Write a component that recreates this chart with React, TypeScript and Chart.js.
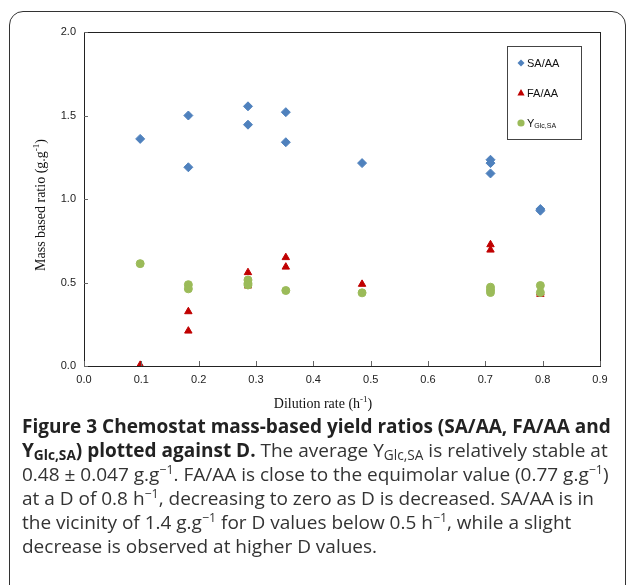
import React, { useEffect, useRef } from "react";
import { Chart, registerables } from "chart.js";

Chart.register(...registerables);

const SA_D = [0.098, 0.182, 0.182, 0.286, 0.286, 0.352, 0.352, 0.485, 0.709, 0.709, 0.709, 0.796, 0.796];
const SA_Y = [1.36, 1.5, 1.19, 1.555, 1.445, 1.52, 1.34, 1.215, 1.235, 1.215, 1.153, 0.94, 0.93];
const FA_D = [0.098, 0.182, 0.182, 0.286, 0.286, 0.352, 0.352, 0.485, 0.709, 0.709, 0.796, 0.796];
const FA_Y = [0.005, 0.326, 0.21, 0.56, 0.48, 0.65, 0.593, 0.49, 0.727, 0.695, 0.43, 0.44];
const YG_D = [0.098, 0.182, 0.182, 0.286, 0.286, 0.286, 0.352, 0.485, 0.709, 0.709, 0.709, 0.796, 0.796];
const YG_Y = [0.613, 0.487, 0.462, 0.515, 0.495, 0.485, 0.452, 0.438, 0.472, 0.455, 0.44, 0.482, 0.44];

const X_TICKS = [0, 0.1, 0.2, 0.3, 0.4, 0.5, 0.6, 0.7, 0.8, 0.9];
const Y_TICKS = [0, 0.5, 1.0, 1.5, 2.0];

const BLUE = "#4F81BD";
const RED = "#C00000";
const GREEN = "#9BBB59";

const toPts = (d: number[], v: number[]) => d.map((x, i) => ({ x, y: v[i] }));

const decorPlugin = {
  id: "decor",
  afterDraw(chart: any) {
    const { ctx, chartArea: a, scales } = chart;
    const xs = scales.x;
    const ys = scales.y;
    ctx.save();
    ctx.strokeStyle = "#222";
    ctx.lineWidth = 1;
    ctx.strokeRect(Math.round(a.left) + 0.5, Math.round(a.top) + 0.5, Math.round(a.right - a.left), Math.round(a.bottom - a.top));
    ctx.strokeStyle = "#666";
    ctx.beginPath();
    X_TICKS.forEach((t) => {
      const px = Math.round(xs.getPixelForValue(t)) + 0.5;
      ctx.moveTo(px, a.bottom);
      ctx.lineTo(px, a.bottom - 5);
    });
    Y_TICKS.forEach((t) => {
      const py = Math.round(ys.getPixelForValue(t)) + 0.5;
      ctx.moveTo(a.left, py);
      ctx.lineTo(a.left + 4, py);
    });
    ctx.stroke();

    ctx.fillStyle = "#111";
    ctx.textBaseline = "alphabetic";
    const main = "14px 'Liberation Serif', 'Times New Roman', serif";
    const sup = "9px 'Liberation Serif', 'Times New Roman', serif";
    const drawSupTitle = (a1: string, s: string, a2: string, cx: number, by: number) => {
      ctx.font = main;
      const w1 = ctx.measureText(a1).width;
      const w3 = ctx.measureText(a2).width;
      ctx.font = sup;
      const w2 = ctx.measureText(s).width;
      let x = cx - (w1 + w2 + w3) / 2;
      ctx.font = main;
      ctx.fillText(a1, x, by);
      x += w1;
      ctx.font = sup;
      ctx.fillText(s, x, by - 6);
      x += w2;
      ctx.font = main;
      ctx.fillText(a2, x, by);
    };
    ctx.textAlign = "left";
    drawSupTitle("Dilution rate (h", "-1", ")", 323, 408);
    ctx.save();
    ctx.translate(45, 205);
    ctx.rotate(-Math.PI / 2);
    drawSupTitle("Mass based ratio (g.g", "-1", ")", 0, 0);
    ctx.restore();

    ctx.strokeStyle = "#444";
    ctx.lineWidth = 1;
    ctx.strokeRect(507.5, 46.5, 74, 93);
    const mx = 521;
    const tx = 527;
    ctx.fillStyle = BLUE;
    ctx.beginPath();
    ctx.moveTo(mx, 63 - 3.5);
    ctx.lineTo(mx + 3.5, 63);
    ctx.lineTo(mx, 63 + 3.5);
    ctx.lineTo(mx - 3.5, 63);
    ctx.closePath();
    ctx.fill();
    ctx.fillStyle = RED;
    ctx.beginPath();
    ctx.moveTo(mx, 93 - 4);
    ctx.lineTo(mx + 3.6, 93 + 2.5);
    ctx.lineTo(mx - 3.6, 93 + 2.5);
    ctx.closePath();
    ctx.fill();
    ctx.fillStyle = GREEN;
    ctx.beginPath();
    ctx.arc(mx, 123, 3.6, 0, Math.PI * 2);
    ctx.fill();

    ctx.fillStyle = "#111";
    ctx.textBaseline = "middle";
    ctx.font = "11px 'Liberation Sans', Arial, sans-serif";
    ctx.fillText("SA/AA", tx, 63.5);
    ctx.fillText("FA/AA", tx, 93.5);
    ctx.fillText("Y", tx, 123.5);
    const wy = ctx.measureText("Y").width;
    ctx.font = "7px 'Liberation Sans', Arial, sans-serif";
    ctx.fillText("Glc,SA", tx + wy, 126.5);
    ctx.restore();
  },
};

function ChartCanvas() {
  const ref = useRef<HTMLCanvasElement | null>(null);
  useEffect(() => {
    if (!ref.current) return;
    const tickFont = { family: "'Liberation Sans', Arial, sans-serif", size: 11 };
    const chart = new Chart(ref.current, {
      type: "scatter",
      data: {
        datasets: [
          {
            label: "SA/AA",
            data: toPts(SA_D, SA_Y),
            pointStyle: "rectRot",
            pointRadius: 4.5,
            backgroundColor: BLUE,
            borderColor: BLUE,
            borderWidth: 1,
            order: 2,
          },
          {
            label: "FA/AA",
            data: toPts(FA_D, FA_Y),
            pointStyle: "triangle",
            pointRadius: 4.3,
            backgroundColor: RED,
            borderColor: RED,
            borderWidth: 1,
            order: 1,
          },
          {
            label: "YGlc,SA",
            data: toPts(YG_D, YG_Y),
            pointStyle: "circle",
            pointRadius: 4,
            backgroundColor: GREEN,
            borderColor: GREEN,
            borderWidth: 1,
            order: 0,
          },
        ],
      },
      options: {
        responsive: false,
        animation: false,
        devicePixelRatio: 1,
        layout: { padding: { top: 32, right: 27, left: 0, bottom: 0 } },
        plugins: { legend: { display: false }, tooltip: { enabled: false } },
        scales: {
          x: {
            type: "linear",
            min: 0,
            max: 0.9,
            afterFit: (s: any) => {
              s.height = 54;
            },
            afterBuildTicks: (s: any) => {
              s.ticks = X_TICKS.map((v) => ({ value: v }));
            },
            grid: { display: false, drawTicks: false },
            border: { display: false },
            ticks: {
              font: tickFont,
              color: "#222",
              padding: 7,
              maxRotation: 0,
              callback: (v: any) => Number(v).toFixed(1),
            },
          },
          y: {
            type: "linear",
            min: 0,
            max: 2,
            afterFit: (s: any) => {
              s.width = 84;
            },
            afterBuildTicks: (s: any) => {
              s.ticks = Y_TICKS.map((v) => ({ value: v }));
            },
            grid: { display: false, drawTicks: false },
            border: { display: false },
            ticks: {
              font: tickFont,
              color: "#222",
              padding: 8,
              callback: (v: any) => Number(v).toFixed(1),
            },
          },
        },
      },
      plugins: [decorPlugin],
    });
    return () => chart.destroy();
  }, []);
  return <canvas ref={ref} width={627} height={420} style={{ position: "absolute", left: 0, top: 0 }} />;
}

const capFont = "'Open Sans', 'Noto Sans', sans-serif";

export default function App() {
  const line: React.CSSProperties = { whiteSpace: "nowrap", height: 24, lineHeight: "24px" };
  const sub: React.CSSProperties = { fontSize: "0.72em", verticalAlign: "-0.25em", lineHeight: 0 };
  const sup: React.CSSProperties = { fontSize: "0.65em", verticalAlign: "0.55em", lineHeight: 0 };
  return (
    <div style={{ position: "absolute", left: 0, top: 0, width: 627, height: 585, overflow: "hidden", background: "#fff" }}>
      <div
        style={{
          position: "absolute",
          left: 9,
          top: 11,
          width: 617,
          height: 640,
          boxSizing: "border-box",
          border: "1.5px solid #333",
          borderRadius: 14,
        }}
      />
      <ChartCanvas />
      <div
        style={{
          position: "absolute",
          left: 22,
          top: 414,
          fontFamily: capFont,
          fontSize: 19,
          color: "#333",
        }}
      >
        <div style={{ ...line, fontWeight: 700, color: "#222" }}>
          Figure 3 Chemostat mass-based yield ratios (SA/AA, FA/AA and
        </div>
        <div style={line}>
          <span style={{ fontWeight: 700, color: "#222" }}>
            Y<span style={sub}>Glc,SA</span>) plotted against D.
          </span>{" "}
          The average Y<span style={sub}>Glc,SA</span> is relatively stable at
        </div>
        <div style={line}>
          0.48 ± 0.047 g.g<span style={sup}>−1</span>. FA/AA is close to the equimolar value (0.77 g.g<span style={sup}>−1</span>)
        </div>
        <div style={line}>
          at a D of 0.8 h<span style={sup}>−1</span>, decreasing to zero as D is decreased. SA/AA is in
        </div>
        <div style={line}>
          the vicinity of 1.4 g.g<span style={sup}>−1</span> for D values below 0.5 h<span style={sup}>−1</span>, while a slight
        </div>
        <div style={line}>decrease is observed at higher D values.</div>
      </div>
    </div>
  );
}
